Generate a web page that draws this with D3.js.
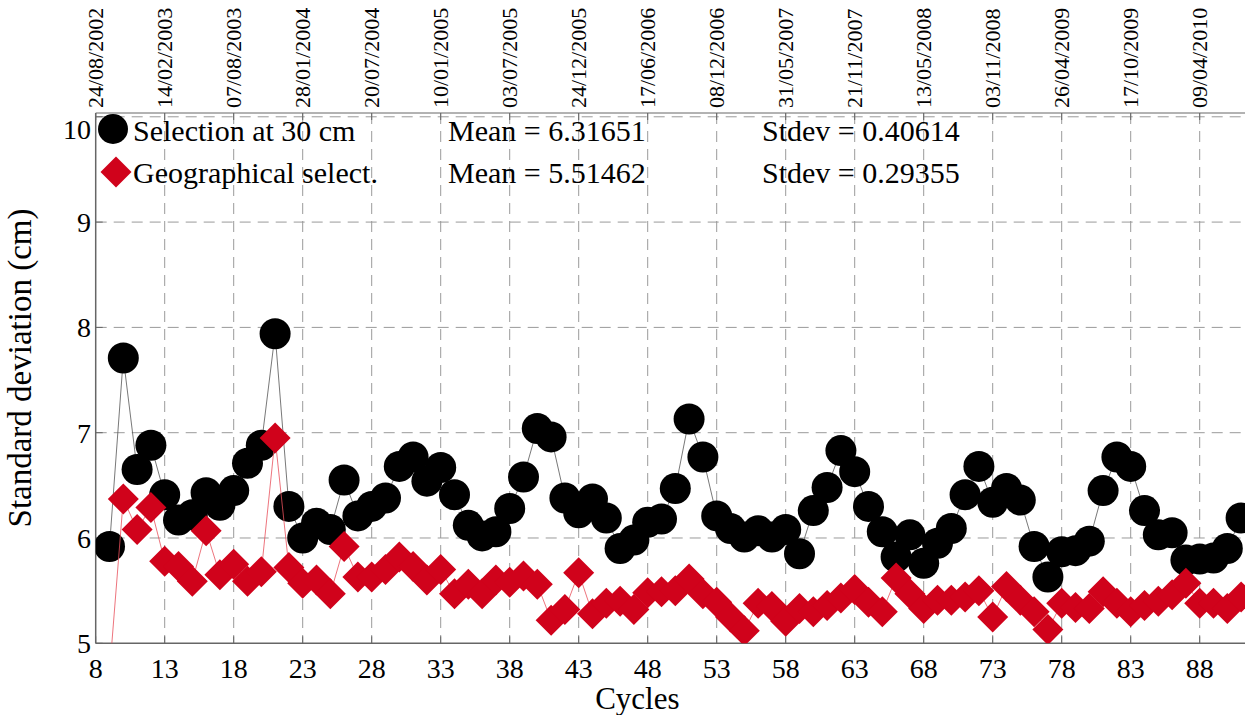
<!DOCTYPE html>
<html>
<head>
<meta charset="utf-8">
<script src="https://cdn.jsdelivr.net/npm/d3@7"></script>
<style>
  body { margin: 0; background: white; }
  svg { display: block; font-family: "Liberation Serif", "Times New Roman", serif; }
</style>
</head>
<body>
<div id="areaDibujo"></div>
<script>
var cycles = [9,10,11,12,13,14,15,16,17,18,19,20,21,22,23,24,25,26,27,28,29,30,
  31,32,33,34,35,36,37,38,39,40,41,42,43,44,45,46,47,48,49,50,51,52,53,54,55,56,
  57,58,59,60,61,62,63,64,65,66,67,68,69,70,71,72,73,74,75,76,77,78,79,80,81,82,
  83,84,85,86,87,88,89,90,91];

var selection30 = [5.92,7.71,6.65,6.88,6.41,6.17,6.22,6.43,6.31,6.45,6.71,6.88,7.94,
  6.30,6.00,6.14,6.08,6.55,6.21,6.30,6.38,6.68,6.77,6.54,6.67,6.41,6.12,6.02,6.06,
  6.28,6.58,7.04,6.96,6.38,6.24,6.37,6.19,5.90,5.98,6.15,6.18,6.47,7.13,6.77,6.21,
  6.09,6.01,6.07,6.01,6.08,5.85,6.26,6.48,6.83,6.63,6.30,6.06,5.82,6.03,5.76,5.95,
  6.09,6.41,6.68,6.34,6.47,6.36,5.92,5.63,5.87,5.88,5.97,6.45,6.77,6.68,6.26,6.03,
  6.05,5.79,5.80,5.81,5.90,6.19];

var geoSelect = [4.72,6.37,6.08,6.29,5.78,5.73,5.59,6.07,5.65,5.75,5.59,5.68,6.95,
  5.72,5.57,5.60,5.47,5.92,5.63,5.63,5.70,5.82,5.73,5.60,5.70,5.47,5.56,5.47,5.60,
  5.58,5.64,5.56,5.22,5.32,5.67,5.28,5.38,5.40,5.32,5.48,5.49,5.50,5.61,5.47,5.39,
  5.25,5.12,5.38,5.35,5.21,5.33,5.30,5.36,5.43,5.51,5.39,5.30,5.62,5.47,5.33,5.41,
  5.41,5.44,5.50,5.25,5.54,5.41,5.30,5.13,5.38,5.34,5.33,5.49,5.38,5.30,5.36,5.40,
  5.46,5.57,5.38,5.38,5.33,5.44];

var xTicks = [8,13,18,23,28,33,38,43,48,53,58,63,68,73,78,83,88];
var dateLabels = ["24/08/2002","14/02/2003","07/08/2003","28/01/2004","20/07/2004",
  "10/01/2005","03/07/2005","24/12/2005","17/06/2006","08/12/2006","31/05/2007",
  "21/11/2007","13/05/2008","03/11/2008","26/04/2009","17/10/2009","09/04/2010"];
var yTicks = [5,6,7,8,9,10];

var seriesNames = ["Selection at 30 cm","Geographical select."];
var seriesMeans = ["Mean = 6.31651","Mean = 5.51462"];
var seriesStdev = ["Stdev = 0.40614","Stdev = 0.29355"];

var width = 1245;
var height = 715;
var plotLeft = 95.7;
var plotTop = 113;
var plotBottom = 643.3;
var red = "#d0021b";

var x = d3.scaleLinear().domain([8, 92.5]).range([plotLeft, plotLeft + 84.5*13.8]);
var y = d3.scaleLinear().domain([5, 10.036]).range([plotBottom, plotTop]);

var svg = d3.select('#areaDibujo').append('svg')
  .attr('width', width)
  .attr('height', height);

svg.append('defs').append('clipPath').attr('id','plotClip')
  .append('rect')
  .attr('x', plotLeft).attr('y', plotTop)
  .attr('width', width - plotLeft).attr('height', plotBottom - plotTop);

// grid
svg.append('g').selectAll('line')
  .data(xTicks.slice(1))
  .enter().append('line')
  .attr('x1', d => x(d)).attr('x2', d => x(d))
  .attr('y1', plotTop).attr('y2', plotBottom)
  .attr('stroke', '#9a9a9a').attr('stroke-width', 1)
  .attr('stroke-dasharray', '11,7');

svg.append('g').selectAll('line')
  .data(yTicks.slice(1))
  .enter().append('line')
  .attr('x1', plotLeft).attr('x2', width)
  .attr('y1', d => y(d)).attr('y2', d => y(d))
  .attr('stroke', '#9a9a9a').attr('stroke-width', 1)
  .attr('stroke-dasharray', '11,7');

// frame
svg.append('line').attr('x1', plotLeft).attr('x2', plotLeft).attr('y1', plotTop).attr('y2', plotBottom)
  .attr('stroke', '#666').attr('stroke-width', 1.5);
svg.append('line').attr('x1', plotLeft).attr('x2', width).attr('y1', plotBottom).attr('y2', plotBottom)
  .attr('stroke', '#666').attr('stroke-width', 1.5);
svg.append('line').attr('x1', plotLeft).attr('x2', width).attr('y1', plotTop).attr('y2', plotTop)
  .attr('stroke', '#666').attr('stroke-width', 1);

// ticks
svg.append('g').selectAll('line')
  .data(xTicks).enter().append('line')
  .attr('x1', d => x(d)).attr('x2', d => x(d))
  .attr('y1', plotBottom).attr('y2', plotBottom - 7)
  .attr('stroke', '#666');
svg.append('g').selectAll('line')
  .data(xTicks).enter().append('line')
  .attr('x1', d => x(d)).attr('x2', d => x(d))
  .attr('y1', plotTop).attr('y2', plotTop + 7)
  .attr('stroke', '#666');
svg.append('g').selectAll('line')
  .data(yTicks).enter().append('line')
  .attr('x1', plotLeft).attr('x2', plotLeft + 7)
  .attr('y1', d => y(d)).attr('y2', d => y(d))
  .attr('stroke', '#666');

// tick labels
svg.append('g').selectAll('text')
  .data(xTicks).enter().append('text')
  .attr('x', d => x(d))
  .attr('y', 678)
  .text(d => d)
  .style('text-anchor', 'middle')
  .attr('font-size', '28px');

svg.append('g').selectAll('text')
  .data(yTicks).enter().append('text')
  .attr('x', 91)
  .attr('y', d => d == 10 ? y(d) + 22 : y(d) + 10)
  .text(d => d)
  .style('text-anchor', 'end')
  .attr('font-size', '28px');

svg.append('g').selectAll('text')
  .data(dateLabels).enter().append('text')
  .attr('transform', (d,i) => 'translate(' + (x(xTicks[i]) + 7) + ',108) rotate(-90)')
  .text(d => d)
  .style('text-anchor', 'start')
  .attr('font-size', '22px');

svg.append('text')
  .attr('x', x(47.25))
  .attr('y', 709)
  .text('Cycles')
  .style('text-anchor', 'middle')
  .attr('font-size', '31px');

svg.append('text')
  .attr('transform', 'translate(31,368) rotate(-90)')
  .text('Standard deviation (cm)')
  .style('text-anchor', 'middle')
  .attr('font-size', '33px');

// series
var plot = svg.append('g').attr('clip-path', 'url(#plotClip)');

var line = d3.line().x(d => x(d[0])).y(d => y(d[1]));
var blackPts = cycles.map((c,i) => [c, selection30[i]]);
var redPts = cycles.map((c,i) => [c, geoSelect[i]]);

plot.append('path').datum(blackPts)
  .attr('d', line)
  .attr('fill', 'none').attr('stroke', '#555').attr('stroke-width', 0.8);

plot.selectAll('circle.sel')
  .data(blackPts).enter().append('circle')
  .attr('class', 'sel')
  .attr('cx', d => x(d[0])).attr('cy', d => y(d[1]))
  .attr('r', 15.5)
  .attr('fill', 'black');

plot.append('path').datum(redPts)
  .attr('d', line)
  .attr('fill', 'none').attr('stroke', '#e8505c').attr('stroke-width', 0.8);

var diamond = d3.symbol().type(d3.symbolSquare).size(31*31/2);
plot.selectAll('path.geo')
  .data(redPts).enter().append('path')
  .attr('class', 'geo')
  .attr('d', diamond)
  .attr('transform', d => 'translate(' + x(d[0]) + ',' + y(d[1]) + ') rotate(45)')
  .attr('fill', red);

// legend
svg.append('circle').attr('cx', 113).attr('cy', 129).attr('r', 15).attr('fill', 'black');
svg.append('path').attr('d', diamond)
  .attr('transform', 'translate(116,172) rotate(45)')
  .attr('fill', red);

var legendY = [141, 183];
svg.append('g').selectAll('text')
  .data(seriesNames).enter().append('text')
  .attr('x', 133).attr('y', (d,i) => legendY[i])
  .text(d => d).attr('font-size', '30px');
svg.append('g').selectAll('text')
  .data(seriesMeans).enter().append('text')
  .attr('x', 448).attr('y', (d,i) => legendY[i])
  .text(d => d).attr('font-size', '30px');
svg.append('g').selectAll('text')
  .data(seriesStdev).enter().append('text')
  .attr('x', 762).attr('y', (d,i) => legendY[i])
  .text(d => d).attr('font-size', '30px');
</script>
</body>
</html>
